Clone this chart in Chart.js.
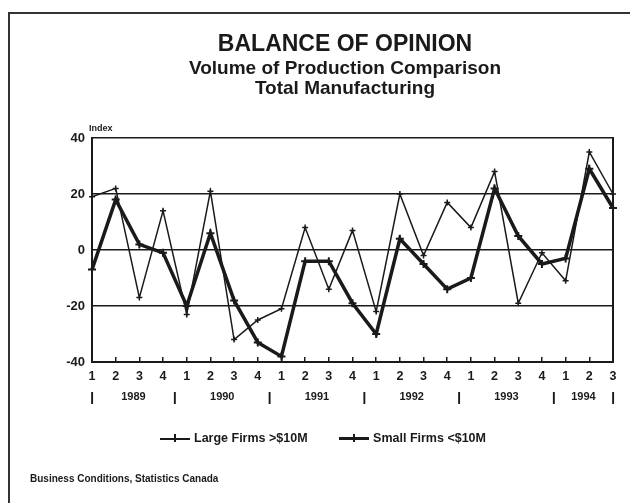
<!DOCTYPE html>
<html><head><meta charset="utf-8">
<script src="https://cdn.jsdelivr.net/npm/chart.js@4.4.1/dist/chart.umd.min.js"></script>
<style>
html,body{margin:0;padding:0;background:#fff;}
#wrap{position:relative;width:630px;height:503px;overflow:hidden;font-family:"Liberation Sans",Arial,sans-serif;color:#1a1a1a;background:#fff;}
#frame{position:absolute;left:8px;top:12px;width:640px;height:520px;border-left:2px solid #333;border-top:2px solid #333;}
canvas{position:absolute;left:0;top:0;}
.t{position:absolute;left:0;width:690px;text-align:center;font-weight:bold;white-space:nowrap;line-height:1;}
#t1{top:32px;font-size:23px;}
#t2{top:58px;font-size:19px;}
#t3{top:78px;font-size:19px;}
#idx{position:absolute;left:89px;top:123px;font-size:9px;font-weight:bold;}
#legend{position:absolute;left:160px;top:431px;font-size:12.5px;font-weight:bold;white-space:nowrap;line-height:14px;}
.item{display:inline-block;margin-right:28px;}
.sym{display:inline-block;position:relative;width:30px;height:14px;vertical-align:top;margin-right:4px;}
.sym .ln{position:absolute;left:0;right:0;top:7px;background:#1a1a1a;}
.sym .tk{position:absolute;left:14px;top:3px;height:8px;background:#1a1a1a;}
#foot{position:absolute;left:30px;top:473px;font-size:10px;font-weight:bold;}
</style>
</head><body>
<div id="wrap">
  <div id="frame"></div>
  <canvas id="c" width="630" height="503"></canvas>
  <div class="t" id="t1">BALANCE OF OPINION</div>
  <div class="t" id="t2">Volume of Production Comparison</div>
  <div class="t" id="t3">Total Manufacturing</div>
  <div id="idx">Index</div>
  <div id="legend">
    <span class="item"><span class="sym"><span class="ln" style="height:1.5px"></span><span class="tk" style="width:1.5px"></span></span>Large Firms &gt;$10M</span>
    <span class="item"><span class="sym"><span class="ln" style="height:3px;top:6px"></span><span class="tk" style="width:2px"></span></span>Small Firms &lt;$10M</span>
  </div>
  <div id="foot">Business Conditions, Statistics Canada</div>
</div>
<script>
const QUARTERS = ['1','2','3','4','1','2','3','4','1','2','3','4','1','2','3','4','1','2','3','4','1','2','3'];
const YEARS = ['1989','1989','1989','1989','1990','1990','1990','1990','1991','1991','1991','1991','1992','1992','1992','1992','1993','1993','1993','1993','1994','1994','1994'];
const LARGE = [19, 22, -17, 14, -23, 21, -32, -25, -21, 8, -14, 7, -22, 20, -2, 17, 8, 28, -19, -1, -11, 35, 20];
const SMALL = [-7, 18, 2, -1, -20, 6, -18, -33, -38, -4, -4, -19, -30, 4, -5, -14, -10, 22, 5, -5, -3, 29, 15];
const Y_TICKS = [-40, -20, 0, 20, 40];
const SERIES_NAMES = ['Large Firms >$10M', 'Small Firms <$10M'];

// year groups derived from categories
const last = QUARTERS.length - 1;
const groups = [];
YEARS.forEach((y, i) => {
  if (!groups.length || groups[groups.length - 1].year !== y) groups.push({year: y, first: i, last: i});
  else groups[groups.length - 1].last = i;
});
const yearTicks = [];
const sepSet = new Set();
groups.forEach(g => {
  const a = Math.max(0, g.first - 0.5), b = Math.min(last, g.last + 0.5);
  sepSet.add(a); sepSet.add(b);
  yearTicks.push({value: (a + b) / 2, label: g.year, sep: false});
});
[...sepSet].forEach(v => yearTicks.push({value: v, label: '|', sep: true}));
yearTicks.sort((p, q) => p.value - q.value);

const INK = '#1a1a1a';
new Chart(document.getElementById('c'), {
  type: 'line',
  data: {
    labels: QUARTERS,
    datasets: [
      {label: SERIES_NAMES[0], data: LARGE, borderColor: INK, backgroundColor: INK, borderWidth: 1.5,
       pointStyle: 'cross', pointRadius: 3, pointBorderWidth: 1.5, tension: 0, xAxisID: 'x', yAxisID: 'y'},
      {label: SERIES_NAMES[1], data: SMALL, borderColor: INK, backgroundColor: INK, borderWidth: 3.5,
       pointStyle: 'cross', pointRadius: 4, pointBorderWidth: 2, tension: 0, xAxisID: 'x', yAxisID: 'y'}
    ]
  },
  options: {
    responsive: false, animation: false, devicePixelRatio: 1,
    layout: {padding: {left: 50, top: 138, right: 17, bottom: 99}},
    plugins: {legend: {display: false}, tooltip: {enabled: false}, title: {display: false}},
    scales: {
      x: {
        type: 'category', position: 'bottom', offset: false,
        grid: {display: true, drawOnChartArea: false, drawTicks: true, tickLength: -5, color: INK, lineWidth: 1.5},
        border: {display: true, color: INK, width: 2},
        ticks: {font: {size: 12.5, weight: 'bold', family: '"Liberation Sans", Arial, sans-serif'}, color: INK, padding: 12, maxRotation: 0, autoSkip: false},
        afterFit(s) { s.height = 20; }
      },
      xYear: {
        type: 'linear', position: 'bottom', min: 0, max: last,
        grid: {display: false}, border: {display: false},
        afterBuildTicks(s) { s.ticks = yearTicks.map(t => ({value: t.value})); },
        ticks: {
          autoSkip: false, maxRotation: 0, padding: 0, color: INK,
          callback(v) { const t = yearTicks.find(k => Math.abs(k.value - v) < 1e-6); return t ? t.label : ''; },
          font(ctx) {
            const v = ctx.tick ? ctx.tick.value : 0;
            const t = yearTicks.find(k => Math.abs(k.value - v) < 1e-6);
            return (t && t.sep) ? {size: 15, weight: 'bold', family: '"Liberation Sans", Arial, sans-serif'}
                                 : {size: 11, weight: 'bold', family: '"Liberation Sans Narrow", "Liberation Sans", Arial, sans-serif'};
          }
        },
        afterFit(s) { s.height = 22; }
      },
      y: {
        type: 'linear', position: 'left', min: -40, max: 40,
        afterBuildTicks(s) { s.ticks = Y_TICKS.map(v => ({value: v})); },
        grid: {color: INK, lineWidth: 1.5, drawTicks: false},
        border: {display: true, color: INK, width: 2},
        ticks: {font: {size: 13, weight: 'bold', family: '"Liberation Sans", Arial, sans-serif'}, color: INK, padding: 7},
        afterFit(s) { s.width = 42; }
      },
      yR: {
        type: 'linear', position: 'right', min: -40, max: 40, display: true,
        grid: {display: false, drawTicks: false}, ticks: {display: false},
        border: {display: true, color: INK, width: 2},
        afterFit(s) { s.width = 0; }
      }
    }
  }
});
</script>
</body></html>
